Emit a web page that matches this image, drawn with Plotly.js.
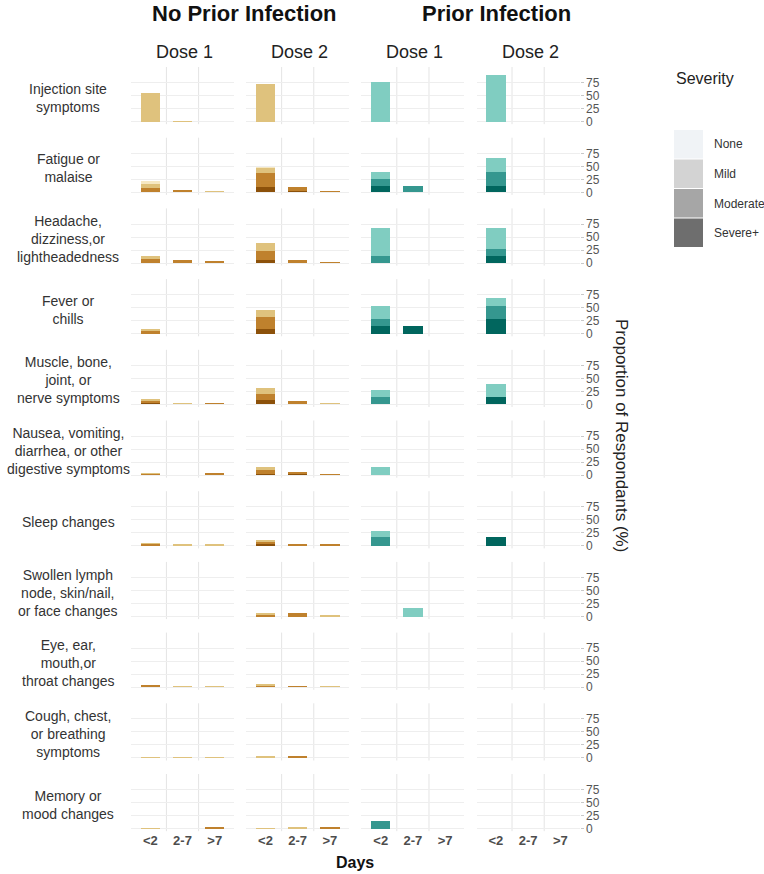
<!DOCTYPE html>
<html>
<head>
<meta charset="utf-8">
<script src="https://cdn.plot.ly/plotly-3.0.1.min.js"></script>
<style>body{margin:0;background:#fff}#chart{width:764px;height:874px}</style>
</head>
<body>
<div id="chart"></div>
<script>
const symptoms = [
  'Injection site<br>symptoms',
  'Fatigue or<br>malaise',
  'Headache,<br>dizziness,or<br>lightheadedness',
  'Fever or<br>chills',
  'Muscle, bone,<br>joint, or<br>nerve symptoms',
  'Nausea, vomiting,<br>diarrhea, or other<br>digestive symptoms',
  'Sleep changes',
  'Swollen lymph<br>node, skin/nail,<br>or face changes',
  'Eye, ear,<br>mouth,or<br>throat changes',
  'Cough, chest,<br>or breathing<br>symptoms',
  'Memory or<br>mood changes'
];
const days = ['<2', '2-7', '>7'];
const groups = ['No Prior Infection', 'Prior Infection'];
const doses = ['Dose 1', 'Dose 2', 'Dose 1', 'Dose 2'];
const severities = ['None', 'Mild', 'Moderate', 'Severe+'];

// every row: NoPrior D1 (<2, 2-7, >7), NoPrior D2, Prior D1, Prior D2
const none = [
  [0,0,0, 0,0,0, 0,0,0, 0,0,0],
  [6,0,0, 2,0,0, 0,0,0, 0,0,0],
  [0,0,0, 0,0,0, 0,0,0, 0,0,0],
  [0,0,0, 0,0,0, 0,0,0, 0,0,0],
  [0,0,0, 0,0,0, 0,0,0, 0,0,0],
  [0,0,0, 0,0,0, 0,0,0, 0,0,0],
  [0,0,0, 0,0,0, 0,0,0, 0,0,0],
  [0,0,0, 0,0,0, 0,0,0, 0,0,0],
  [0,0,0, 0,0,0, 0,0,0, 0,0,0],
  [0,0,0, 0,0,0, 0,0,0, 0,0,0],
  [0,0,0, 0,0,0, 0,0,0, 0,0,0]
];
const mild = [
  [55,2,0, 73,0,0, 76,0,0, 89,0,0],
  [8,0,2, 8,0,0, 13,0,0, 27,0,0],
  [6,0,0, 15,0,0, 53,0,0, 40,0,0],
  [4,0,0, 13,0,0, 26,0,0, 15,0,0],
  [3,2,0, 12,0,2, 14,0,0, 26,0,0],
  [1.5,0,0, 6,0,0, 16,0,0, 0,0,0],
  [2,3,3, 4,0,0, 13,0,0, 0,0,0],
  [0,0,0, 5,0,3, 0,16,0, 0,0,0],
  [0,2.5,2, 3,0,2.5, 0,0,0, 0,0,0],
  [1.5,1.5,1.5, 3,0,0, 0,0,0, 0,0,0],
  [2,0,0, 2,2.5,0, 0,0,0, 0,0,0]
];
const moderate = [
  [0,0,0, 0,0,0, 0,0,0, 0,0,0],
  [8,4,0, 27,7,3, 13,13,0, 26,0,0],
  [8,6,3, 18,6,2.5, 14,0,0, 13,0,0],
  [6,0,0, 23,0,0, 13,0,0, 25,0,0],
  [5,0,3, 11,7,0, 14,0,0, 0,0,0],
  [3,0,3.5, 7,4,3, 0,0,0, 0,0,0],
  [4,0,0, 5,3,3, 16,0,0, 0,0,0],
  [0,0,0, 2,6,0, 0,0,0, 0,0,0],
  [3.5,0,0, 3,3,0, 0,0,0, 0,0,0],
  [0,0,0, 0,3,0, 0,0,0, 0,0,0],
  [0,0,3, 0,0,3.5, 15,0,0, 0,0,0]
];
const severe = [
  [0,0,0, 0,0,0, 0,0,0, 0,0,0],
  [0,0,0, 11,3,0, 13,0,0, 13,0,0],
  [0,0,0, 6,0,0, 0,0,0, 14,0,0],
  [0,0,0, 10,0,0, 15,15,0, 28,0,0],
  [2,0,0, 9,0,0, 0,0,0, 14,0,0],
  [0,0,0, 3,2,0, 0,0,0, 0,0,0],
  [0,0,0, 3,0,0, 0,0,0, 16,0,0],
  [0,0,0, 0,0,0, 0,0,0, 0,0,0],
  [0,0,0, 0,0,0, 0,0,0, 0,0,0],
  [0,0,0, 0,0,0, 0,0,0, 0,0,0],
  [0,0,0, 0,0,0, 0,0,0, 0,0,0]
];

const bySeverity = [none, mild, moderate, severe];
const brownShades = ['#f6e8c3', '#dfc27d', '#bf812d', '#8c510a'];
const tealShades = ['#c7eae5', '#80cdc1', '#35978f', '#01665e'];
const legendGreys = ['#f0f3f6', '#d3d3d3', '#a6a6a6', '#6e6e6e'];

const W = 764, H = 874;
const font = 'Liberation Sans, Arial, sans-serif';
const colLeft = [131, 246.2, 361.4, 476.6];
const panelW = 103;
const rowTop = r => 67 + 70.7 * r;
const panelH = 57.2;

var data = [];
var layout = {
  width: W, height: H,
  margin: {l: 0, r: 0, t: 0, b: 0},
  paper_bgcolor: '#fff', plot_bgcolor: 'rgba(0,0,0,0)',
  barmode: 'stack',
  showlegend: false,
  font: {family: font, color: '#222'},
  shapes: [],
  annotations: []
};

for (let r = 0; r < symptoms.length; r++) {
  for (let c = 0; c < 4; c++) {
    let n = r * 4 + c + 1;
    let xa = n === 1 ? 'x' : 'x' + n;
    let ya = n === 1 ? 'y' : 'y' + n;
    let shades = c < 2 ? brownShades : tealShades;
    // bottom first: Severe+, Moderate, Mild, None
    for (let s = 3; s >= 0; s--) {
      data.push({
        type: 'bar',
        x: days,
        y: bySeverity[s][r].slice(c * 3, c * 3 + 3),
        xaxis: xa, yaxis: ya,
        width: 0.6,
        name: severities[s],
        marker: {color: shades[s], line: {width: 0}},
        hoverinfo: 'y+name'
      });
    }
    let top = rowTop(r);
    layout[n === 1 ? 'xaxis' : 'xaxis' + n] = {
      domain: [colLeft[c] / W, (colLeft[c] + panelW) / W],
      anchor: ya,
      type: 'category',
      categoryorder: 'array', categoryarray: days,
      range: [-0.6, 2.6],
      showgrid: false, zeroline: false, showline: false,
      ticks: '',
      showticklabels: r === symptoms.length - 1,
      tickfont: {family: font, size: 13, color: '#4d4d4d', weight: 'bold'}
    };
    layout[n === 1 ? 'yaxis' : 'yaxis' + n] = {
      domain: [1 - (top + panelH) / H, 1 - top / H],
      anchor: xa,
      range: [-5, 105],
      tickvals: [0, 25, 50, 75],
      showgrid: true, gridcolor: '#eeeeee', gridwidth: 1,
      zeroline: false, showline: false,
      side: 'right',
      showticklabels: c === 3,
      ticks: c === 3 ? 'outside' : '',
      ticklen: 3, tickcolor: '#c8c8c8',
      tickfont: {family: font, size: 12, color: '#555'}
    };
    [0.5, 1.5].forEach(v => layout.shapes.push({
      type: 'line', layer: 'below',
      xref: xa, yref: ya + ' domain',
      x0: v, x1: v, y0: 0, y1: 1,
      line: {color: '#e4e4e4', width: 1}
    }));
  }
  // row label
  layout.annotations.push({
    text: symptoms[r], xref: 'paper', yref: 'paper',
    x: 68 / W, y: 1 - (rowTop(r) + panelH / 2 + 2) / H,
    xanchor: 'center', yanchor: 'middle', align: 'center', showarrow: false,
    font: {family: font, size: 14, color: '#333'}
  });
}

// group titles
[[groups[0], 244], [groups[1], 496]].forEach(g => layout.annotations.push({
  text: '<b>' + g[0] + '</b>', xref: 'paper', yref: 'paper',
  x: g[1] / W, y: 1 - 13 / H, xanchor: 'center', yanchor: 'middle', showarrow: false,
  font: {family: font, size: 22, color: '#111'}
}));
// dose strips
doses.forEach((d, c) => layout.annotations.push({
  text: d, xref: 'paper', yref: 'paper',
  x: (colLeft[c] + panelW / 2 + 2) / W, y: 1 - 52 / H,
  xanchor: 'center', yanchor: 'middle', showarrow: false,
  font: {family: font, size: 18, color: '#222'}
}));
// axis titles
layout.annotations.push({
  text: '<b>Days</b>', xref: 'paper', yref: 'paper',
  x: 355 / W, y: 1 - 862 / H, xanchor: 'center', yanchor: 'middle', showarrow: false,
  font: {family: font, size: 16, color: '#111'}
});
layout.annotations.push({
  text: 'Proportion of Respondants (%)', xref: 'paper', yref: 'paper',
  x: 622 / W, y: 1 - 435 / H, xanchor: 'center', yanchor: 'middle', showarrow: false,
  textangle: 90,
  font: {family: font, size: 17, color: '#222'}
});
// severity legend
layout.annotations.push({
  text: 'Severity', xref: 'paper', yref: 'paper',
  x: 674 / W, y: 1 - 78 / H, xanchor: 'left', yanchor: 'middle', showarrow: false,
  font: {family: font, size: 16, color: '#222'}
});
severities.forEach((s, i) => {
  let y0 = 130 + i * 29.5;
  layout.shapes.push({
    type: 'rect', xref: 'paper', yref: 'paper',
    x0: 674 / W, x1: 703 / W, y0: 1 - y0 / H, y1: 1 - (y0 + 28.5) / H,
    fillcolor: legendGreys[i], line: {width: 0}
  });
  layout.annotations.push({
    text: s, xref: 'paper', yref: 'paper',
    x: 712 / W, y: 1 - (y0 + 14.5) / H, xanchor: 'left', yanchor: 'middle', showarrow: false,
    font: {family: font, size: 12, color: '#333'}
  });
});

Plotly.newPlot('chart', data, layout, {displayModeBar: false, staticPlot: true});
</script>
</body>
</html>
